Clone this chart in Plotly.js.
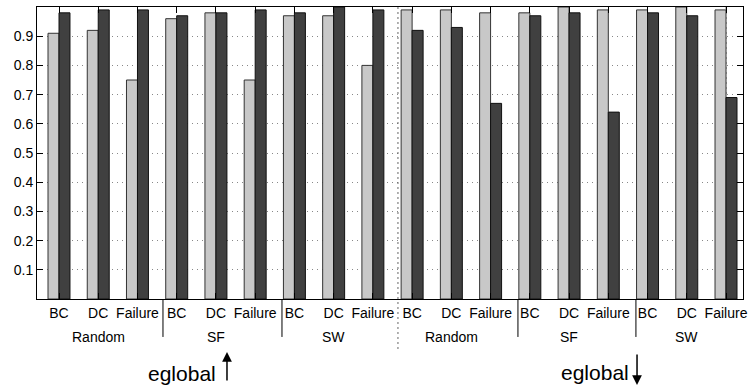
<!DOCTYPE html>
<html><head><meta charset="utf-8">
<script src="https://cdn.plot.ly/plotly-3.0.1.min.js"></script>
<style>html,body{margin:0;padding:0;background:#fff}#chart{width:749px;height:389px}</style>
</head><body><div id="chart"></div>
<script>
// ---- data ----
const halfLabels = ['eglobal', 'eglobal'];
const halfArrows = ['up', 'down'];
const networks = ['Random', 'SF', 'SW'];
const measures = ['BC', 'DC', 'Failure'];
const lightValues = [0.91, 0.92, 0.75, 0.96, 0.98, 0.75, 0.97, 0.97, 0.80,
                     0.99, 0.99, 0.98, 0.98, 1.00, 0.99, 0.99, 1.00, 0.99];
const darkValues  = [0.98, 0.99, 0.99, 0.97, 0.98, 0.99, 0.98, 1.00, 0.99,
                     0.92, 0.93, 0.67, 0.97, 0.98, 0.64, 0.98, 0.97, 0.69];
const yTickVals = [0.1, 0.2, 0.3, 0.4, 0.5, 0.6, 0.7, 0.8, 0.9];
const yTickText = ['0.1', '0.2', '0.3', '0.4', '0.5', '0.6', '0.7', '0.8', '0.9'];

// ---- build ----
const xs = [], tickText = [];
let k = 1;
halfLabels.forEach(() => networks.forEach(() => measures.forEach(m => { xs.push(k++); tickText.push(m); })));
const X_MIN = 0.4394, X_MAX = 18.433;
const px = d => (d - X_MIN) / (X_MAX - X_MIN);
const FONT = 'Liberation Sans, Arial, Helvetica, sans-serif';

const traces = [
  {type: 'bar', x: xs, y: lightValues, marker: {color: '#c8c8c8', line: {color: '#333', width: 1}}, hoverinfo: 'skip'},
  {type: 'bar', x: xs, y: darkValues, marker: {color: '#404040', line: {color: '#111', width: 1}}, hoverinfo: 'skip'}
];

const shapes = [];
const annotations = [];
// group separators below axis
const sepPos = [3.65, 6.683, 12.697, 15.704];
sepPos.forEach(s => shapes.push({type: 'line', xref: 'paper', yref: 'paper', x0: px(s), x1: px(s), y0: 0, y1: -0.13, line: {color: '#000', width: 1}}));
// middle divider (second axes)
shapes.push({type: 'line', xref: 'paper', yref: 'paper', x0: px(9.639), x1: px(9.639), y0: 1, y1: -0.18, line: {color: '#666', width: 1, dash: '2px,3px'}});
shapes.push({type: 'line', xref: 'paper', yref: 'paper', x0: px(18), x1: px(18), y0: 1, y1: 0, layer: 'below', line: {color: '#777', width: 1, dash: '2px,3px'}});

// network labels
halfLabels.forEach((h, hi) => networks.forEach((n, ni) => {
  const mid = hi * 9 + ni * 3 + 2;
  annotations.push({xref: 'x', yref: 'paper', x: mid, y: -0.13, xanchor: 'center', yanchor: 'middle', text: n, showarrow: false, font: {family: FONT, size: 14, color: '#000'}});
}));
// eglobal labels and arrows
const egX = [0.2054, 0.790], egY = [-0.2568, -0.25];
const arX = [0.2691, 0.8499], arY = [-0.1815, -0.2945];
halfLabels.forEach((h, hi) => {
  annotations.push({xref: 'paper', yref: 'paper', x: egX[hi], y: egY[hi], xanchor: 'center', yanchor: 'middle', text: h, showarrow: false, font: {family: FONT, size: 21, color: '#000'}});
  annotations.push({xref: 'paper', yref: 'paper', x: arX[hi], y: arY[hi], text: '', showarrow: true,
    ax: 0, ay: halfArrows[hi] === 'up' ? 30 : -32, arrowhead: 2, arrowsize: 1.3, arrowwidth: 1.5, arrowcolor: '#000', standoff: 0, startstandoff: 0});
});

const layout = {
  width: 749, height: 389,
  margin: {l: 37, r: 6, t: 7, b: 90},
  paper_bgcolor: '#fff', plot_bgcolor: '#fff',
  showlegend: false,
  barmode: 'group', bargap: 0.44, bargroupgap: 0,
  font: {family: FONT, size: 14, color: '#000'},
  xaxis: {range: [X_MIN, X_MAX], tickvals: xs, ticktext: tickText, ticks: 'inside', ticklen: 6, tickwidth: 1, tickcolor: '#000',
          showline: true, linecolor: '#000', linewidth: 1, mirror: 'ticks', showgrid: false, zeroline: false,
          tickfont: {family: FONT, size: 14, color: '#000'}, ticklabelstandoff: 1},
  yaxis: {range: [0, 1], tickvals: yTickVals, ticktext: yTickText, ticks: 'inside', ticklen: 6, tickwidth: 1, tickcolor: '#000',
          showline: true, linecolor: '#000', linewidth: 1, mirror: 'ticks', showgrid: true, gridcolor: '#888', gridwidth: 1, griddash: '1px,4px',
          zeroline: false, tickfont: {family: FONT, size: 14, color: '#000'}},
  shapes: shapes,
  annotations: annotations
};
Plotly.newPlot('chart', traces, layout, {displayModeBar: false, staticPlot: true});
</script>
</body></html>
